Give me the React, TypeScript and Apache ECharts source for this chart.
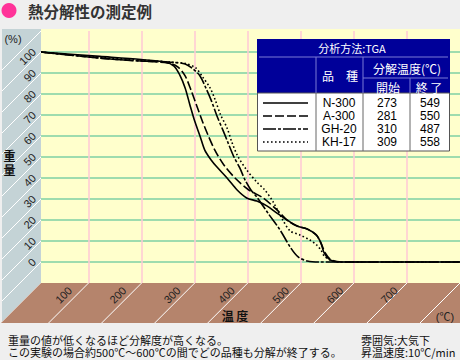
import React, { useEffect, useRef } from "react";
import * as echarts from "echarts";

// ---- data ----
const temperatureTicks = [100, 200, 300, 400, 500, 600, 700];
const weightTicks = [0, 10, 20, 30, 40, 50, 60, 70, 80, 90, 100];
const seriesNames = ["N-300", "A-300", "GH-20", "KH-17"];
const onsetTemps = [273, 281, 310, 309];
const endTemps = [549, 550, 487, 558];

const n300 = [
  [10, 100], [121, 97.9], [199, 96.4], [244, 95.2], [261, 93.3], [272, 89.0], [282, 82.9],
  [291, 74.8], [300, 67.1], [310, 60.0], [319, 53.3], [331, 48.6], [342, 45.2], [361, 40.0],
  [380, 34.3], [398, 30.5], [417, 29.0], [436, 26.7], [455, 23.3], [474, 20.0], [493, 17.1],
  [512, 15.7], [529, 12.9], [538, 9.0], [544, 4.3], [555, 1.0], [574, 0], [800, 0],
];
const a300 = [
  [10, 100], [121, 97.1], [199, 95.7], [249, 94.8], [268, 92.9], [282, 88.6], [293, 81.9],
  [304, 74.3], [315, 66.7], [325, 60.5], [338, 53.3], [355, 46.2], [378, 39.5], [402, 34.3],
  [429, 30.5], [455, 24.8], [474, 20.0], [493, 17.1], [512, 15.7], [529, 12.9], [538, 9.0],
  [546, 4.3], [557, 1.0], [578, 0], [800, 0],
];
const gh20 = [
  [10, 100], [121, 97.1], [199, 95.7], [253, 95.2], [282, 94.3], [297, 91.9], [310, 88.6],
  [321, 82.9], [331, 77.1], [342, 69.5], [353, 62.9], [363, 56.7], [374, 50.0], [385, 44.8],
  [395, 39.0], [406, 34.3], [417, 31.0], [438, 23.3], [461, 15.2], [480, 7.1], [495, 2.4],
  [512, 0.5], [536, 0], [800, 0],
];
const kh17 = [
  [10, 100], [121, 97.4], [199, 96.2], [253, 95.2], [283, 94.5], [302, 92.4], [315, 88.1],
  [329, 82.9], [338, 77.6], [349, 70.0], [361, 63.8], [370, 57.1], [381, 50.5], [398, 43.8],
  [417, 38.1], [432, 34.3], [447, 29.0], [466, 20.0], [480, 14.8], [498, 12.9], [517, 10.5],
  [530, 8.1], [538, 5.7], [544, 2.9], [555, 1.0], [574, 0], [800, 0],
];
const curves = [n300, a300, gh20, kh17];

const dashPatterns: any[] = ["solid", [9, 3], [13, 2, 3, 2], [1.6, 2.4]];

const NUM_FONT = "Arial, 'Liberation Sans', 'Noto Sans CJK JP', sans-serif";
const JP_FONT = "'Noto Sans CJK JP', sans-serif";

export default function App() {
  const ref = useRef<HTMLDivElement>(null);

  useEffect(() => {
    if (!ref.current) return;
    const chart = echarts.init(ref.current, null, { renderer: "svg" });

    const series = seriesNames.map((name, i) => ({
      name,
      type: "line",
      data: curves[i],
      showSymbol: false,
      smooth: 0.3,
      z: 3,
      lineStyle: { color: "#000", width: 1.6, type: dashPatterns[i] },
    }));

    chart.setOption({
      animation: false,
      backgroundColor: "#efefef",
      grid: { left: 35.5, right: 0, top: 31, bottom: 77 },
      xAxis: {
        type: "value",
        min: 0,
        max: 800,
        interval: 100,
        axisLine: { show: false },
        axisTick: { show: false },
        axisLabel: { show: false },
        splitLine: {
          show: true,
          showMinLine: false,
          showMaxLine: false,
          lineStyle: { color: "#ffc8d6", width: 1.5 },
        },
      },
      yAxis: {
        type: "value",
        min: -10,
        max: 110,
        interval: 10,
        axisLine: { show: false },
        axisTick: { show: false },
        axisLabel: { show: false },
        splitLine: {
          show: true,
          showMinLine: false,
          showMaxLine: false,
          lineStyle: { color: "#9edcae", width: 2 },
        },
      },
      series,
    });

    const px = (v: number) => chart.convertToPixel({ xAxisIndex: 0 }, v) as number;
    const py = (v: number) => chart.convertToPixel({ yAxisIndex: 0 }, v) as number;

    const WALL_L = 2;
    const WALL_R = 41;
    const TOP = 29;
    const FLOOR_T = py(-10);
    const FLOOR_B = FLOOR_T + 40;
    const RIGHT = 460;

    const g: any[] = [];
    // plot background
    g.push({ type: "rect", z: -1, shape: { x: 30, y: TOP, width: RIGHT - 30, height: FLOOR_T - TOP }, style: { fill: "#ffffcc" } });
    // wall
    g.push({ type: "rect", z: 10, shape: { x: WALL_L, y: TOP, width: WALL_R - WALL_L, height: FLOOR_B - TOP }, style: { fill: "#c4d3d6" } });
    for (let v = -10; v <= 110; v += 10) {
      const y = py(v);
      g.push({
        type: "line", z: 11,
        shape: { x1: WALL_R, y1: y, x2: WALL_L, y2: y + (WALL_R - WALL_L) },
        style: { stroke: "#ffffff", lineWidth: 1 },
      });
    }
    // floor
    g.push({
      type: "polygon", z: 12,
      shape: { points: [[WALL_R, FLOOR_T], [RIGHT, FLOOR_T], [RIGHT, FLOOR_B], [WALL_R - 40, FLOOR_B]] },
      style: { fill: "#b5846c" },
    });
    for (let v = 100; v <= 800; v += 100) {
      const x = px(v);
      g.push({
        type: "line", z: 13,
        shape: { x1: x, y1: FLOOR_T, x2: x - 40, y2: FLOOR_B },
        style: { stroke: "#ffffff", lineWidth: 1 },
      });
    }
    // x labels
    temperatureTicks.forEach((v) => {
      g.push({
        type: "text", z: 14, x: px(v) - 25 + (v - 100) * 0.012, y: FLOOR_T + 12, rotation: Math.PI / 4,
        style: { text: String(v), fill: "#222", fontSize: 11, fontFamily: NUM_FONT, align: "center", verticalAlign: "middle" },
      });
    });
    // y labels
    weightTicks.forEach((v) => {
      g.push({
        type: "text", z: 14, x: WALL_R - 7, y: py(v) - 2, rotation: Math.PI / 4,
        style: { text: String(v), fill: "#222", fontSize: 11, fontFamily: NUM_FONT, align: "right", verticalAlign: "middle" },
      });
    });
    // axis titles
    g.push({ type: "text", z: 14, x: 13, y: 39, style: { text: "(%)", fill: "#222", fontSize: 11, fontFamily: NUM_FONT, align: "center", verticalAlign: "middle" } });
    g.push({ type: "text", z: 14, x: 9.5, y: 155, style: { text: "重", fill: "#111", fontSize: 12, lineHeight: 13, fontWeight: "bold", fontFamily: JP_FONT, align: "center", verticalAlign: "middle" } });
    g.push({ type: "text", z: 14, x: 9.5, y: 169.5, style: { text: "量", fill: "#111", fontSize: 12, lineHeight: 13, fontWeight: "bold", fontFamily: JP_FONT, align: "center", verticalAlign: "middle" } });
    g.push({ type: "text", z: 14, x: 235, y: 315, style: { text: "温 度", fill: "#111", fontSize: 12, fontWeight: "bold", fontFamily: JP_FONT, align: "center", verticalAlign: "middle" } });
    g.push({ type: "text", z: 14, x: 445, y: 317, style: { text: "(℃)", fill: "#222", fontSize: 11, fontFamily: NUM_FONT, align: "center", verticalAlign: "middle" } });

    // title
    g.push({ type: "circle", z: 14, shape: { cx: 9, cy: 10.5, r: 7.5 }, style: { fill: "#ff3399" } });
    g.push({ type: "text", z: 14, x: 28, y: 11, style: { text: "熱分解性の測定例", fill: "#333", fontSize: 15.5, fontWeight: "bold", fontFamily: JP_FONT, align: "left", verticalAlign: "middle" } });

    // bottom notes
    const note = (text: string, x: number, y: number) =>
      g.push({ type: "text", z: 14, x, y, style: { text, fill: "#111", fontSize: 11, lineHeight: 12, fontFamily: JP_FONT, align: "left", verticalAlign: "middle" } });
    note("重量の値が低くなるほど分解度が高くなる。", 8, 339.5);
    note("この実験の場合約500℃～600℃の間でどの品種も分解が終了する。", 8, 352);
    note("雰囲気:大気下", 361, 339.5);
    note("昇温速度:10℃/min", 361, 352);

    // legend table
    const TL = 257, TR = 450, TT = 39, HB = 93, TB = 151;
    const C1 = 316, C2 = 363, C3 = 410;
    const hdr = "#7b7bd6";
    g.push({ type: "rect", z: 20, shape: { x: TL, y: TT, width: TR - TL, height: HB - TT }, style: { fill: "#000099" } });
    g.push({ type: "rect", z: 20, shape: { x: TL + 0.5, y: HB, width: TR - TL - 1, height: TB - HB }, style: { fill: "#ffffff", stroke: "#555", lineWidth: 1 } });
    const ln = (x1: number, y1: number, x2: number, y2: number, c: string) =>
      g.push({ type: "line", z: 21, shape: { x1, y1, x2, y2 }, style: { stroke: c, lineWidth: 1 } });
    ln(TL + 2, 57, TR - 2, 57, hdr);
    ln(C1, 57, C1, HB, hdr);
    ln(C2, 57, C2, HB, hdr);
    ln(C2, 78, TR - 2, 78, hdr);
    ln(C3, 78, C3, HB, hdr);
    ln(C1, HB, C1, TB, "#666");
    ln(C2, HB, C2, TB, "#666");
    ln(C3, HB, C3, TB, "#666");
    const htxt = (text: string, x: number, y: number, size = 12) =>
      g.push({ type: "text", z: 22, x, y, style: { text, fill: "#fff", fontSize: size, fontFamily: JP_FONT, align: "center", verticalAlign: "middle" } });
    htxt("分析方法:TGA", 352, 48, 11);
    htxt("品　種", 340, 75);
    htxt("分解温度(℃)", 407, 68);
    htxt("開始", 388, 87);
    htxt("終 了", 429, 87);
    seriesNames.forEach((name, i) => {
      const y = 103 + i * 13;
      g.push({ type: "line", z: 22, shape: { x1: 263, y1: y, x2: 308, y2: y }, style: { stroke: "#000", lineWidth: 1.6, lineDash: dashPatterns[i] === "solid" ? null : dashPatterns[i] } });
      const cell = (text: string, x: number) =>
        g.push({ type: "text", z: 22, x, y, style: { text, fill: "#000", fontSize: 12, lineHeight: 13, fontFamily: NUM_FONT, align: "center", verticalAlign: "middle" } });
      cell(name, 339);
      cell(String(onsetTemps[i]), 387);
      cell(String(endTemps[i]), 430);
    });

    chart.setOption({ graphic: { elements: g } });

    return () => chart.dispose();
  }, []);

  return (
    <div
      ref={ref}
      style={{ position: "absolute", left: 0, top: 0, width: 460, height: 360 }}
    />
  );
}
